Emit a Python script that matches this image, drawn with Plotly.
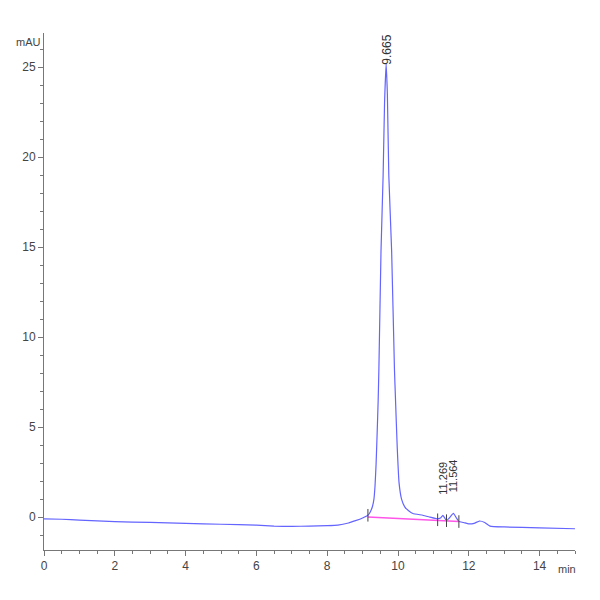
import plotly.graph_objects as go

# chromatogram trace (min, mAU)
times = [0.0, 0.5, 1.0, 2.0, 3.0, 4.0, 5.0, 6.0, 6.5, 7.0, 7.5, 8.0, 8.3, 8.6, 8.8, 9.0,
         9.15, 9.22, 9.28, 9.32, 9.35, 9.38, 9.41, 9.44, 9.46, 9.52, 9.58, 9.62, 9.665, 9.7, 9.74,
         9.82, 9.9, 9.93, 9.98, 10.03, 10.1, 10.19, 10.3, 10.42, 10.7, 10.9, 11.1,
         11.2, 11.269, 11.37, 11.45, 11.564, 11.65, 11.72, 11.85, 12.0, 12.15, 12.3, 12.45,
         12.6, 13.0, 14.0, 15.0]
signal = [-0.1, -0.12, -0.17, -0.25, -0.3, -0.35, -0.4, -0.45, -0.5, -0.52, -0.5, -0.48, -0.45, -0.33, -0.2, -0.05,
          0.1, 0.3, 0.6, 1.0, 1.7, 2.9, 4.6, 6.5, 8.2, 14.8, 19.0, 23.0, 25.2, 23.5, 19.0,
          14.8, 8.2, 6.5, 3.8, 1.9, 1.0, 0.57, 0.35, 0.2, 0.1, 0.0, -0.1,
          -0.05, 0.1, -0.2, -0.05, 0.2, -0.05, -0.25, -0.3, -0.38, -0.35, -0.22, -0.3,
          -0.5, -0.55, -0.6, -0.65]

# integration baseline
base_times = [9.15, 11.72]
base_levels = [0.0, -0.25]

# peak start / end tick marks
bound_times = [9.15, 11.12, 11.37, 11.72]
bound_levels = [0.1, -0.15, -0.2, -0.25]

# peak labels
peak_times = [9.665, 11.269, 11.564]
peak_heights = [25.2, 0.1, 0.2]
peak_labels = ["9.665", "11.269", "11.564"]

x_ticks = [0, 2, 4, 6, 8, 10, 12, 14]
y_ticks = [0, 5, 10, 15, 20, 25]

font_name = "Liberation Sans Narrow, Arial Narrow, Liberation Sans, sans-serif"
axis_col = "#777777"

fig = go.Figure()
fig.add_trace(go.Scatter(x=times, y=signal, mode="lines",
                         line=dict(color="#6464ff", width=1.2, shape="spline", smoothing=0.4),
                         hoverinfo="skip"))
fig.add_trace(go.Scatter(x=base_times, y=base_levels, mode="lines",
                         line=dict(color="#ff55e8", width=1.4), hoverinfo="skip"))
fig.add_trace(go.Scatter(x=bound_times, y=bound_levels, mode="markers",
                         marker=dict(symbol="line-ns", size=9, line=dict(color="#444444", width=1)),
                         hoverinfo="skip"))

for t, h, lab in zip(peak_times, peak_heights, peak_labels):
    big = h > 5
    fig.add_annotation(x=t, y=h, text=lab, textangle=-90, showarrow=False,
                       yanchor="bottom", yshift=-3 if big else 19,
                       font=dict(family="Liberation Sans, Arial, sans-serif",
                                 size=12 if big else 11, color="#333333"))

fig.add_annotation(xref="paper", yref="paper", x=-0.03, y=0.983, text="mAU", showarrow=False,
                   xanchor="center", yanchor="middle",
                   font=dict(family=font_name, size=11, color="#444444"))
fig.add_annotation(xref="paper", yref="paper", x=0.985, y=-0.037, text="min", showarrow=False,
                   xanchor="center", yanchor="middle",
                   font=dict(family=font_name, size=11, color="#444444"))

fig.update_layout(
    width=600, height=600,
    margin=dict(l=36, r=33, t=25, b=58),
    plot_bgcolor="white", paper_bgcolor="white",
    showlegend=False,
    font=dict(family=font_name, size=12, color="#444444"),
)
fig.update_xaxes(range=[0, 15], tickvals=x_ticks, showgrid=False, zeroline=False,
                 showline=True, linecolor=axis_col, linewidth=1,
                 ticks="outside", ticklen=5, tickcolor=axis_col,
                 minor=dict(dtick=0.5, ticks="outside", ticklen=3, tickcolor=axis_col))
fig.update_yaxes(range=[-1.83, 26.9], tickvals=y_ticks, showgrid=False, zeroline=False,
                 showline=True, linecolor=axis_col, linewidth=1,
                 ticks="outside", ticklen=5, tickcolor=axis_col,
                 minor=dict(dtick=1, ticks="outside", ticklen=3, tickcolor=axis_col))

fig.write_html("out.html")
